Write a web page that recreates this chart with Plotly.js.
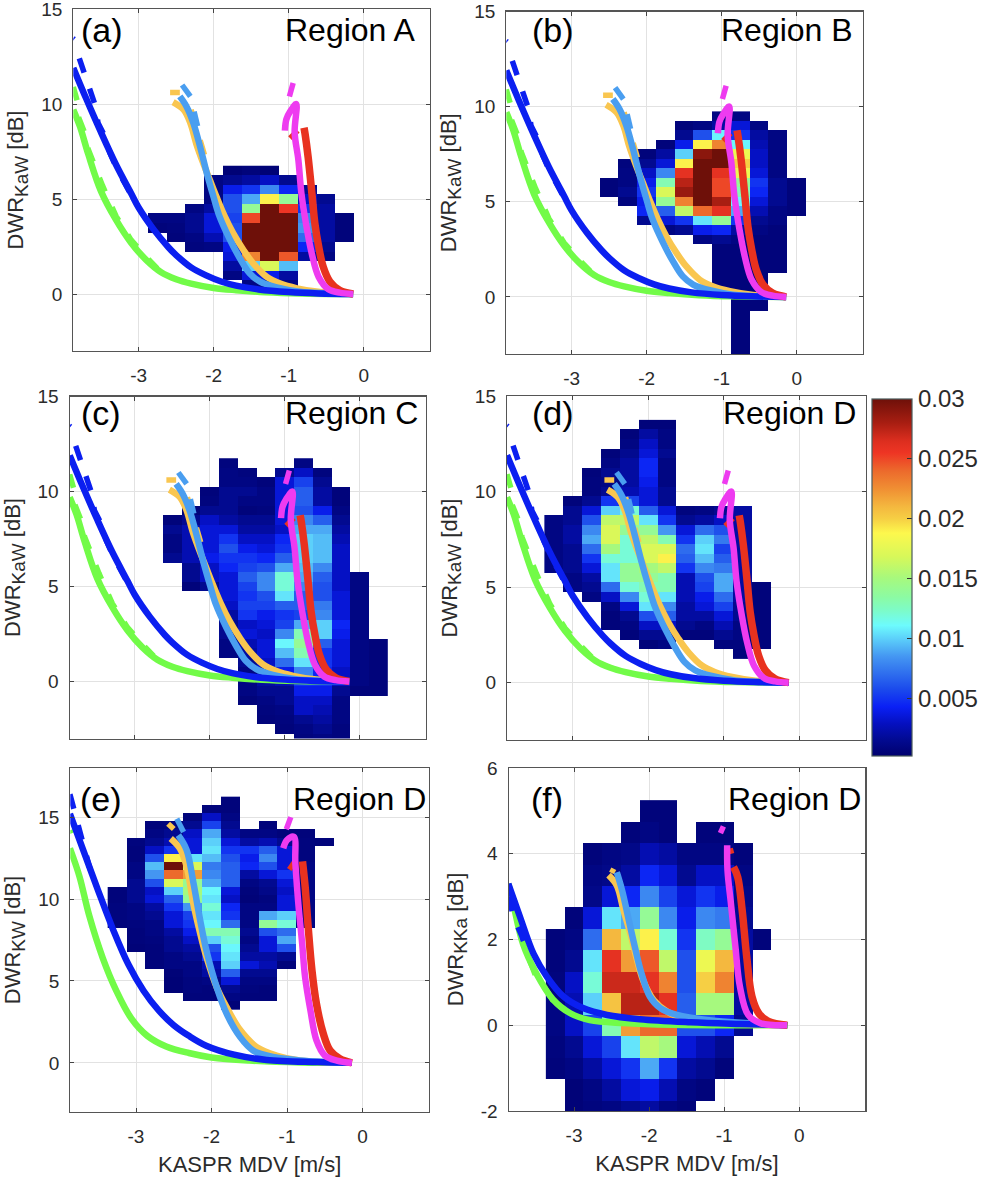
<!DOCTYPE html>
<html><head><meta charset="utf-8">
<script src="https://cdn.plot.ly/plotly-3.0.1.min.js"></script>
<style>html,body{margin:0;padding:0;background:#fff}</style></head>
<body><div id="chart" style="width:984px;height:1178px"></div>
<script>
// Heatmap rows: [DWR bin centre, MDV of first cell, [values x 1e-3 ...]]
const regionA = [
[6.5,-1.75,[.5,.7,.5]],
[6,-2,[1,1.5,2,3,1.5]],
[5.5,-2,[1,4,5,8,4.5,1.5]],
[5,-2,[1,6,9,19,14,3,1.5]],
[4.5,-2.25,[1,2,6,14,30,25.5,5,2]],
[4,-2.75,[1,1,1.5,3.5,5.5,25,30,30,8,2,.7]],
[3.5,-2.75,[.7,.8,1.5,3.5,6,30,30,30,8.5,2,.7]],
[3,-2.5,[.7,1,2.5,6,30,30,30,7,2,.7]],
[2.5,-2.25,[.8,1,4,30,30,30,4.5,1.5]],
[2,-1.75,[3.5,23,30,24.5,2,1]],
[1.5,-1.75,[2,10,17,9.5]],
[1,-1.75,[1,3.5,4,2]],
[.5,-1.5,[1,1,1]]];
const regionB = [
[9.5,-1,[1,1]],
[9,-1.5,[.7,1,2,3.5,1]],
[8.5,-1.5,[1.5,6,11,5,2,1]],
[8,-1.75,[.7,4,19,23,11,2.5,1]],
[7.5,-2,[.7,2,10,29,30,18,3,1]],
[7,-2.25,[.8,1.5,3.5,19,30,30,20,3,1]],
[6.5,-2.25,[1,3,8,26,30,26,18,3.5,1]],
[6,-2.5,[.7,1,4,13,27.5,30,25,14,5,1.5,.7]],
[5.5,-2.5,[.7,1.5,5,17,28.5,30,25,13,4.5,1.5,.7]],
[5,-2.25,[.8,4,14,23,30,28,11,3.5,1.5,.7]],
[4.5,-2,[4.5,6.5,16,24,26,9,2.5,1,.7]],
[4,-2,[1.5,3.5,5,10.5,14,5,1.5,1]],
[3.5,-1.75,[1,1.5,4,4.5,2,1,.7]],
[3,-1.25,[1,1.5,1,.7,.7]],
[2.5,-1,[.7,.7,.7,.7]],
[2,-1,[.7,.7,.7,.7]],
[1.5,-1,[.7,.7,.7,.7]],
[1,-1,[.7,.7,.7]],
[.5,-1,[.7,.7,.7]],
[0,-.75,[.7,.7]],
[-.5,-.75,[.7,.7]],
[-1,-.75,[.7]],[-1.5,-.75,[.7]],[-2,-.75,[.7]],[-2.5,-.75,[.7]],[-3,-.75,[.7]]];
const regionC = [
[11.5,-1.75,[.8]],[11.5,-.75,[1]],
[11,-1.75,[1,.8]],[11,-1,[1.5,3,.8]],
[10.5,-1.75,[1,1,.7,3.5,5.5,1.5]],
[10,-2,[.7,1.5,1.5,1,3.5,6.5,2,.7]],
[9.5,-2,[.8,1.5,1,1,3.5,6.5,2,.7]],
[9,-2.25,[.7,1.5,1.5,.7,.8,3.5,6,4,1]],
[8.5,-2.5,[.7,1.5,3,2,1.5,1.5,3.5,8,6.5,1.5]],
[8,-2.5,[1.5,2.5,3.5,3.5,2,2,3,9,9,2]],
[7.5,-2.5,[1,2.5,3.5,5,3,3,4.5,10,9.5,2.5]],
[7,-2.5,[1,2.5,3.5,6,4,3.5,5,10,9.5,3]],
[6.5,-2.5,[1.5,2.5,4,5,5,4.5,6.5,10,9.5,3]],
[6,-2.25,[1.5,3,4.5,5.5,6,9,9.5,8,3]],
[5.5,-2.25,[1.5,3,3.5,6.5,8,12,9,6.5,3,1]],
[5,-2.25,[.7,1.5,3.5,5.5,8,12,8,6,3,1]],
[4.5,-1.75,[3.5,5,6,10.5,6.5,6,3.5,1]],
[4,-1.75,[3,5.5,5.5,6.5,6.5,7.5,3.5,1]],
[3.5,-1.75,[2,5,4,5,5.5,8,3.5,1]],
[3,-1.75,[1.5,3,3.5,5.5,9,10,4.5,1]],
[2.5,-1.75,[1.5,3.5,3,8,13,10,4,1]],
[2,-1.75,[1,2.5,3.5,11,14,6.5,3.5,1,.7]],
[1.5,-1.75,[1,2,3.5,9.5,13,5,3.5,1,.7]],
[1,-1.5,[1.5,3,7,10.5,5,3.5,1,.7]],
[.5,-1.5,[1,2,4,8,4.5,3,1,.7]],
[0,-1.5,[1,2,2.5,5,5,3,1,.7]],
[-.5,-1.5,[1,1.5,1.5,4,4,1.5,.7,.7]],
[-1,-1.5,[.7,1,1.5,3,3,1]],
[-1.5,-1.25,[.8,1,3,2.5,1]],
[-2,-1.25,[.7,.8,1.5,2,1]],
[-2.5,-1,[.7,1,1.5,.8]],
[-3,-.75,[.8,1,.8]]];
const regionD = [
[13.5,-2,[.7,.7]],
[13,-2.25,[.7,2,1]],
[12.5,-2.25,[1,3,1]],
[12,-2.5,[.7,1.5,3.5,1.5]],
[11.5,-2.5,[1,2,4.5,1]],
[11,-2.75,[.7,1.5,2,4.5,1]],
[10.5,-2.75,[.8,1,2,4,1]],
[10,-2.75,[.8,1.5,2.5,3.5,1.5]],
[9.5,-3,[.7,1.5,5,5.5,3.5,1.5]],
[9,-3,[1.5,3.5,10,12,6.5,3.5,.8,1,1.5,2]],
[8.5,-3.25,[1,1.5,6,16,16,10.5,5,1.5,2,3,2]],
[8,-3.25,[1,2,8,17,14,14,8.5,3.5,7,6,2]],
[7.5,-3.25,[1,2,9,17,12,16,13,5,10,7.5,2]],
[7,-3.25,[1,1.5,7,15,12,17,17,7,10.5,5.5,2]],
[6.5,-3.25,[1,1.5,5,12,12,17,19,6.5,9.5,6.5,2]],
[6,-3.25,[1,1.5,3.5,10.5,14,15,16,5,8,7.5,2]],
[5.5,-3,[1,2,10.5,14,14,13,2.5,6,9,2]],
[5,-3,[1,1.5,7,12,13,13,2.5,5.5,9,2,.7]],
[4.5,-2.75,[1,3,8,12,10.5,2.5,4,7,2,.7]],
[4,-2.5,[1,3.5,10.5,8,2,3.5,5.5,1.5,.7]],
[3.5,-2.5,[.7,1.5,6,6.5,2,2,3.5,1.5,.7]],
[3,-2.5,[.7,1,3,3,1.5,1,2.5,1,.7]],
[2.5,-2.25,[.7,1.5,1.5,.7,.7,1.5,1,.7]],
[2,-2,[.7,1]],[2,-1,[.8,.8,.7]],
[1.5,-.75,[.7]]];
const regionE = [
[16,-1.75,[.7]],
[15.5,-2,[.7,.7]],
[15,-2.25,[.7,3,1]],
[14.5,-2.75,[.7,.8,1.5,5.5,1.5]],[14.5,-1.25,[.7]],
[14,-2.75,[1,1.5,3,9,2,1,1,.7,.7]],
[13.5,-3,[.8,1.5,2.5,3.5,10,3.5,2,2.5,1.5,.8,.7]],
[13,-3,[.7,3,5,3.5,10.5,5,5,6.5,3.5,.8]],
[12.5,-3,[.7,6,19,10.5,9.5,6,4,8,3.5,.8]],
[12,-3,[1,9.5,30,17,7.5,6.5,4.5,6,3.5,1]],
[11.5,-3,[1,8.5,24,22,8,6.5,2,3.5,5,1]],
[11,-3,[1.5,6,17,14,9,6.5,1,1.5,3.5,1]],
[10.5,-3.25,[.7,1.5,3,10,15,11,3.5,.7,1.2,3,1]],
[10,-3.25,[.7,1.5,3.5,6.5,14,10.5,3,.6,.8,3.5,1]],
[9.5,-3.25,[.8,1,2,5,8.5,12,4.5,1,1,3.5,1]],
[9,-3.25,[.8,1,1.5,3.5,5.5,10.5,5,1,9,10,1]],
[8.5,-3.25,[.7,.8,1,3.5,5,11,7,1,14,12,1]],
[8,-3,[.7,1,2,4,13,13,1.5,6,7]],
[7.5,-3,[.7,.8,1.5,3,10,12,1,3.5,9]],
[7,-3,[.6,.7,1.5,2,6,11,1.5,3.5,6]],
[6.5,-2.75,[.7,1,1.5,5,10.5,2,2,1.5]],
[6,-2.75,[.7,1,1,2.5,10,3.5,2.5,.7]],
[5.5,-2.5,[.6,1,2,6.5,1.5,1.5]],
[5,-2.5,[.5,.8,1,3.5,1,1]],
[4.5,-2.5,[.5,.8,.7,1.5,.8,.7]],
[4,-2.25,[.7,.7,1,.7,.7]],
[3.5,-1.75,[.6]]];
const regionF = [
[5,-2,[.7,.7]],
[4.5,-2.25,[.7,1,.7]],[4.5,-1.25,[.7,.7]],
[4,-2.75,[.7,1,1.2,2.5,2,1,1,1,.7]],
[3.5,-2.75,[1,1.2,2,4.5,3.5,1.5,3,3,1]],
[3,-2.75,[1.2,3.5,4.5,8,5.5,3.5,5,4,1.2]],
[2.5,-3,[.7,3.5,10.5,9,14,8,4,8,7.5,1.5]],
[2,-3.25,[.7,1,7,21,16,19,12,5,12.5,14,2,.7]],
[1.5,-3.25,[.7,1.5,10.5,26,22,24.5,16,6,18,21,2]],
[1,-3.25,[.8,3,12,27,27,26,23,6,20,23,2]],
[.5,-3.25,[1,2.5,10,20.5,27.5,27.5,26,6.5,15,15,2]],
[0,-3.25,[1,3,5.5,13,22,24,24,6,6,4.5,1.5]],
[-.5,-3.25,[.8,1.5,3.5,5.5,10.5,16,15,3.5,2.5,1.5]],
[-1,-3.25,[.7,1,2,3.5,5,9,5,2,1.5,.7]],
[-1.5,-3,[.6,1,2,3.5,4,2.5,1,.7]],
[-2,-3,[.6,.8,1,1.5,2,1,.7]]];

// Model curves shared by panels a-d (DWR Ka-W)
const kaW = {
 greenX:[-3.87,-3.78,-3.67,-3.5,-3.3,-3.1,-2.9,-2.7,-2.5,-2.3,-2,-1.7,-1.3,-.85,-.15],
 greenY:[9.7,8.8,7.35,5.4,3.9,2.7,1.8,1.15,.78,.55,.32,.2,.09,.03,0],
 greenDX:[-3.87,-3.82,null,-3.8,-3.72,-3.67,-3.58,-3.48,-3.3,-3.1,-2.9,-2.75],
 greenDY:[10.9,10.2,null,9.3,8.5,7.6,6.7,5.7,4.1,2.85,1.95,1.35],
 blueX:[-3.87,-3.7,-3.5,-3.3,-3.1,-3,-2.8,-2.6,-2.5,-2.3,-2.1,-1.9,-1.7,-1.4,-1,-.6,-.14],
 blueY:[11.9,10.3,8.5,6.8,5.3,4.55,3.4,2.45,2.05,1.4,.98,.66,.44,.24,.1,.03,0],
 blueDX:[-3.875,-3.86,null,-3.79,-3.73,-3.65,-3.58,-3.54,-3.45,-3.38,-3.29,-3.07],
 blueDY:[13.45,13.4,null,12.4,11.65,10.75,9.95,9,8.3,7.4,6.6,5],
 orangeX:[-2.54,-2.4,-2.31,-2.23,-2.14,-2.05,-1.96,-1.85,-1.74,-1.6,-1.47,-1.29,-1.12,-.89,-.58,-.14],
 orangeY:[10.1,9.7,9,7.9,6.9,6,5.1,4.07,3.2,2.3,1.6,.9,.56,.3,.1,0],
 orangeDX:[-2.58,-2.45,null,-2.3,-2.2,-2.12],
 orangeDY:[10.6,10.6,null,9.7,8.3,7.3],
 skyX:[-2.45,-2.36,-2.27,-2.18,-2.09,-2,-1.92,-1.78,-1.65,-1.52,-1.38,-1.16,-.85,-.14],
 skyY:[10.4,9.86,9,7.75,6.35,5.1,4.07,2.84,1.88,1.09,.65,.35,.12,0],
 skyDX:[-2.42,-2.31,null,-2.26,-2.2],
 skyDY:[11,10.4,null,9.6,8.6],
 redX:[-.795,-.78,-.74,-.69,-.65,-.6,-.54,-.45,-.32,-.14],
 redY:[8.75,8.4,7.2,5.3,3.7,2.5,1.44,.65,.2,0],
 redDX:[-.98,-.88], redDY:[8.2,8.6],
 magentaX:[-1.05,-1.03,-.98,-.9,-.92,-.87,-.83,-.76,-.69,-.6,-.47,-.32,-.14],
 magentaY:[8.6,9.2,9.6,10,8.5,7.05,5.3,3.5,2.1,.9,.25,.07,0],
 magentaDX:[-.99,-.94], magentaDY:[10.4,11.1]
};
// Panel e (DWR Ku-W)
const kW = {
 greenX:[-3.875,-3.75,-3.62,-3.44,-3.26,-3.06,-2.85,-2.6,-2.3,-2,-1.5,-.83,-.15],
 greenY:[13.1,11.4,9,6.4,4.4,2.7,1.65,1,.6,.33,.14,.02,0],
 greenDX:[-3.875,-3.86], greenDY:[14.2,14],
 blueX:[-3.875,-3.7,-3.5,-3.3,-3.1,-2.9,-2.7,-2.5,-2.3,-2.07,-1.7,-1.27,-.6,-.14],
 blueY:[15.2,13,10.5,8.1,6,4.4,3.2,2.3,1.65,1.05,.5,.18,.05,0],
 blueDX:[-3.875,-3.83,-3.77,-3.71,-3.62,-3.52],
 blueDY:[16.4,15.6,14.4,13.6,12,10.8],
 orangeX:[-2.54,-2.42,-2.33,-2.24,-2.15,-2.07,-1.93,-1.8,-1.62,-1.4,-1.14,-.83,-.14],
 orangeY:[13.7,13.1,12,9.7,7.9,6.5,4.6,3.4,2,.96,.45,.14,0],
 orangeDX:[-2.575,-2.5], orangeDY:[14.6,14.27],
 skyX:[-2.44,-2.33,-2.24,-2.15,-2.07,-1.93,-1.8,-1.62,-1.45,-1.27,-.83,-.14],
 skyY:[13.9,13,11,8.7,6.9,4.6,3,1.57,.76,.45,.14,0],
 skyDX:[-2.46,-2.37], skyDY:[14.9,14.1],
 redX:[-.795,-.76,-.72,-.67,-.61,-.52,-.43,-.3,-.14],
 redY:[12.3,10.75,8.3,5.65,3.6,1.78,.75,.25,0],
 redDX:[-.97,-.88], redDY:[11.8,12.4],
 magentaX:[-1.05,-1.0,-.91,-.89,-.85,-.8,-.76,-.69,-.61,-.5,-.34,-.14],
 magentaY:[13.1,13.6,13.8,12.2,9.7,7.3,5.2,3.2,1.37,.45,.14,0],
 magentaDX:[-1.01,-.95], magentaDY:[14.26,15]
};
// Panel f (DWR Ku-Ka)
const kKa = {
 greenX:[-3.875,-3.81,-3.68,-3.5,-3.28,-3.05,-2.79,-2.34,-1.7,-.15],
 greenY:[3.3,2.84,1.9,1.2,.6,.28,.12,.05,.01,0],
 greenDX:[-3.8,-3.68,-3.6,-3.5,-3.38,-3.25,-3.1],
 greenDY:[2.95,2.1,1.55,1.1,.85,.5,.35],
 blueX:[-3.875,-3.72,-3.54,-3.36,-3.14,-2.88,-2.56,-2.12,-1.45,-.79,-.16],
 blueY:[3.3,2.53,1.67,1.13,.67,.4,.24,.14,.07,.03,0],
 blueDX:[-3.875,-3.8,-3.7,-3.6], blueDY:[3,2.5,2.1,1.6],
 orangeX:[-2.54,-2.43,-2.34,-2.25,-2.16,-2.08,-1.94,-1.76,-1.5,-1,-.16],
 orangeY:[3.5,3.26,2.68,2.14,1.52,1.05,.59,.32,.14,.05,0],
 orangeDX:[-2.5,-2.47], orangeDY:[3.55,3.65],
 skyX:[-2.43,-2.36,-2.28,-2.19,-2.1,-1.99,-1.85,-1.63,-1.23,-.16],
 skyY:[3.57,3.15,2.53,1.83,1.2,.67,.4,.24,.12,0],
 redX:[-.875,-.82,-.76,-.7,-.63,-.54,-.41,-.16],
 redY:[3.69,3.46,2.68,1.6,.67,.28,.09,0],
 redDX:[-.96,-.875], redDY:[4.04,4.08],
 magentaX:[-.96,-.955,-.91,-.85,-.79,-.68,-.52,-.16],
 magentaY:[4.2,3.6,2.84,1.83,.9,.24,.05,0],
 magentaDX:[-1.05,-1.01], magentaDY:[4.48,4.64]
};

const mdvBins = [-3.25,-3,-2.75,-2.5,-2.25,-2,-1.75,-1.5,-1.25,-1,-.75,-.5,-.25,0,.25];
const colorStops = [[.2,'#00006e'],[1.5,'#020a90'],[2.9,'#0510c0'],[4.3,'#0a20f5'],[5.7,'#1a48ec'],[7.1,'#2f6fee'],
 [8.5,'#4496f2'],[10,'#5cd0fa'],[11.1,'#6dfbfd'],[12.3,'#7cfbca'],[13.5,'#8cfba2'],[15.1,'#a8f97c'],[16.8,'#d6f85a'],
 [18.8,'#fdf84d'],[20,'#f6cf44'],[21,'#f4b83f'],[22.5,'#f08f33'],[24,'#ec6a2c'],[25.5,'#ee3524'],[26.5,'#dc2e1f'],[28,'#a81e12'],[30,'#6e1009']];
const xTicks = [-3,-2,-1,0], xTickText = ['-3','-2','-1','0'];
const yTicksKa = [0,5,10,15], yTicksF = [-2,0,2,4,6];
const yTicksKaText = ['0','5','10','15'], yTicksFText = ['-2','0','2','4','6'];
const curveColors = {green:'#72fb48',orange:'#f9c650',sky:'#4a9ef0',blue:'#0b1ff0',red:'#e8321f',magenta:'#ee3bf0'};
const curveWidths = {green:6.5,orange:6.5,sky:6.5,blue:6.5,red:7.5,magenta:6.5};

const W=984,H=1178;
const sub=s=>'<sub><span style="font-size:19px">'+s+'</span></sub>';
const panels = [
 {tag:'(a)',region:'Region A',rows:regionA,c:kaW,l:73.3,r:429.7,t:9,b:351,y:[-3,15],yt:yTicksKa,ytt:yTicksKaText,lab:true,title:'DWR'+sub('KaW')+' [dB]',tx:79,rx:283,ty:30},
 {tag:'(b)',region:'Region B',rows:regionB,c:kaW,l:506.3,r:862.7,t:11.5,b:354,y:[-3,15],yt:yTicksKa,ytt:yTicksKaText,lab:true,title:'DWR'+sub('KaW')+' [dB]',tx:530,rx:719,ty:30},
 {tag:'(c)',region:'Region C',rows:regionC,c:kaW,l:69.7,r:425.7,t:396.5,b:738.5,y:[-3,15],yt:yTicksKa,ytt:yTicksKaText,lab:false,title:'DWR'+sub('KaW')+' [dB]',tx:79,rx:283,ty:413},
 {tag:'(d)',region:'Region D',rows:regionD,c:kaW,l:507,r:865.7,t:396,b:740,y:[-3,15],yt:yTicksKa,ytt:yTicksKaText,lab:false,title:'DWR'+sub('KaW')+' [dB]',tx:530,rx:720.5,ty:413},
 {tag:'(e)',region:'Region D',rows:regionE,c:kW,l:70.3,r:429,t:768,b:1112,y:[-3,18],yt:yTicksKa,ytt:yTicksKaText,lab:true,title:'DWR'+sub('KW')+' [dB]',xtitle:'KASPR MDV [m/s]',tx:78,rx:290.5,ty:799},
 {tag:'(f)',region:'Region D',rows:regionF,c:kKa,l:508.7,r:865.3,t:768,b:1111,y:[-2,6],yt:yTicksF,ytt:yTicksFText,lab:true,title:'DWR'+sub('KKa')+' [dB]',xtitle:'KASPR MDV [m/s]',tx:529,rx:725.5,ty:799}
];

function grid(rows){
  const ys=[...new Set(rows.map(r=>r[0]))].sort((a,b)=>a-b);
  const z=ys.map(()=>mdvBins.map(()=>null));
  rows.forEach(([y,x0,vals])=>{
    const j=ys.indexOf(y), i0=mdvBins.indexOf(x0);
    vals.forEach((v,k)=>{z[j][i0+k]=v/1000;});
  });
  return {y:ys,z};
}
const FAMILY='"Liberation Sans",Arial,sans-serif';
const TICK={family:FAMILY,size:19,color:'#2b2b2b'};
const TITLE={family:FAMILY,size:22,color:'#2b2b2b'};
const traces=[],annotations=[];
const layout={width:W,height:H,margin:{l:0,r:0,t:0,b:0},paper_bgcolor:'#fff',plot_bgcolor:'#fff',showlegend:false,
  coloraxis:{cmin:.0002,cmax:.03,
    colorscale:colorStops.map(([v,c])=>[(v-.2)/29.8,c]),
    colorbar:{x:871.7/W,xanchor:'left',xref:'paper',y:1-756/H,yanchor:'bottom',yref:'paper',len:357,lenmode:'pixels',
      thickness:40,thicknessmode:'pixels',xpad:0,ypad:0,outlinecolor:'#4a5a5a',outlinewidth:1.2,
      ticks:'inside',ticklen:5,tickcolor:'#333',tickvals:[.005,.01,.015,.02,.025,.03],ticktext:['0.005','0.01','0.015','0.02','0.025','0.03'],
      tickfont:{family:FAMILY,size:24,color:'#2b2b2b'}}}};

panels.forEach((p,i)=>{
  const n=i?String(i+1):'', xa='x'+n, ya='y'+n, xk='xaxis'+n, yk='yaxis'+n;
  const g=grid(p.rows);
  traces.push({type:'heatmap',x:mdvBins,y:g.y,z:g.z,coloraxis:'coloraxis',xaxis:xa,yaxis:ya,hoverongaps:false,zsmooth:false,name:p.region});
  ['green','orange','sky','blue','red','magenta'].forEach(k=>{
    const c=p.c;
    if(c[k+'DX']&&c[k+'DX'].length) traces.push({type:'scatter',mode:'lines',x:c[k+'DX'],y:c[k+'DY'],xaxis:xa,yaxis:ya,
        line:{color:curveColors[k],width:5.5,dash:'15px,17px',shape:'linear'},name:k+' dashed',connectgaps:false});
    traces.push({type:'scatter',mode:'lines',x:c[k+'X'],y:c[k+'Y'],xaxis:xa,yaxis:ya,
        line:{color:curveColors[k],width:curveWidths[k],shape:'spline',smoothing:1},name:k});
  });
  layout[xk]={domain:[p.l/W,p.r/W],range:[-3.87,.88],anchor:ya,tickvals:xTicks,ticktext:xTickText,ticks:'inside',ticklen:4,tickcolor:'#444',
    showticklabels:p.lab,tickfont:TICK,ticklabelstandoff:7,ticklabeloverflow:'allow',showline:true,linecolor:'#555',linewidth:1.2,mirror:'ticks',
    showgrid:true,gridcolor:'#e2e2e2',gridwidth:1,zeroline:false,
    title:p.xtitle?{text:p.xtitle,font:TITLE,standoff:10}:undefined};
  layout[yk]={domain:[1-p.b/H,1-p.t/H],range:p.y,anchor:xa,tickvals:p.yt,ticktext:p.ytt,ticks:'inside',ticklen:4,tickcolor:'#444',
    tickfont:TICK,ticklabelstandoff:6,ticklabeloverflow:'allow',showline:true,linecolor:'#555',linewidth:1.2,mirror:'ticks',
    showgrid:true,gridcolor:'#e2e2e2',gridwidth:1,zeroline:false,
    title:{text:p.title,font:TITLE,standoff:11}};
  annotations.push({xref:'paper',yref:'paper',x:p.tx/W,y:1-p.ty/H,xanchor:'left',yanchor:'middle',showarrow:false,text:p.tag,font:{family:FAMILY,size:34,color:'#000'}});
  annotations.push({xref:'paper',yref:'paper',x:p.rx/W,y:1-p.ty/H,xanchor:'left',yanchor:'middle',showarrow:false,text:p.region,font:{family:FAMILY,size:32,color:'#000'}});
});
layout.annotations=annotations;
Plotly.newPlot('chart',traces,layout,{staticPlot:true,displayModeBar:false});
</script></body></html>
